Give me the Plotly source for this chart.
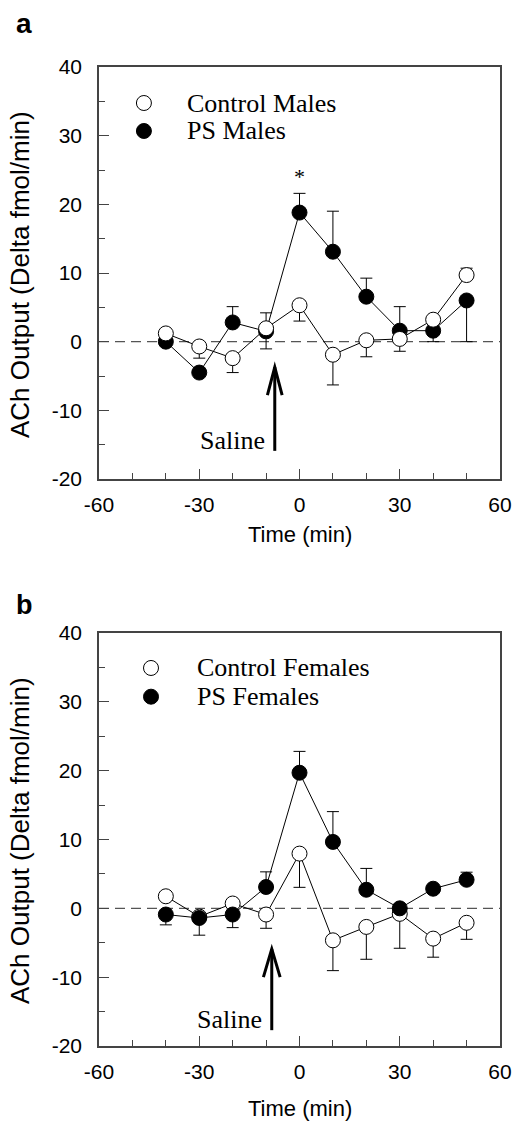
import plotly.graph_objects as go

# ---------------- data ----------------
time_min = [-40, -30, -20, -10, 0, 10, 20, 30, 40, 50]

ctrl_males = [1.2, -0.7, -2.4, 1.95, 5.3, -1.9, 0.2, 0.4, 3.2, 9.7]
ctrl_males_err_up = [0, 0, 0, 0, 0, 0, 0, 0, 0, 1.0]
ctrl_males_err_dn = [0, 1.7, 2.1, 3.0, 2.3, 4.4, 2.4, 1.8, 0, 0]

ps_males = [0.0, -4.5, 2.8, 1.5, 18.8, 13.1, 6.55, 1.6, 1.6, 6.0]
ps_males_err_up = [0, 0, 2.3, 2.7, 2.8, 5.9, 2.7, 3.5, 0, 0]
ps_males_err_dn = [0, 0, 0, 0, 0, 0, 0, 0, 1.6, 6.0]

ctrl_females = [1.75, -1.2, 0.7, -0.9, 7.95, -4.65, -2.7, -0.8, -4.4, -2.1]
ctrl_females_err_up = [0, 0, 0, 0, 0, 0, 0, 0, 0, 0]
ctrl_females_err_dn = [0, 0, 0, 2.0, 4.9, 4.4, 4.7, 5.0, 2.7, 2.4]

ps_females = [-0.9, -1.4, -0.9, 3.1, 19.7, 9.65, 2.7, 0.0, 2.85, 4.15]
ps_females_err_up = [0, 0, 0, 2.2, 3.1, 4.4, 3.1, 0, 0, 1.1]
ps_females_err_dn = [1.5, 2.5, 1.9, 0, 0, 0, 0, 0, 0, 0]

x_ticks = [-60, -30, 0, 30, 60]
y_ticks = [-20, -10, 0, 10, 20, 30, 40]

legend_a = ["Control Males", "PS Males"]
legend_b = ["Control Females", "PS Females"]

x_title = "Time (min)"
y_title = "ACh Output (Delta fmol/min)"

# ---------------- figure ----------------
fig = go.Figure()

SERIF = "Liberation Serif, Times New Roman, serif"
SANS = "Liberation Sans, Arial, sans-serif"


def add_series(y, up, dn, filled, xa, ya, name):
    fig.add_trace(go.Scatter(
        x=time_min, y=y, mode="lines+markers", name=name, showlegend=False,
        xaxis=xa, yaxis=ya,
        line=dict(color="black", width=1),
        marker=dict(size=15, color="black" if filled else "white",
                    line=dict(color="black", width=1)),
        error_y=dict(type="data", symmetric=False, array=up, arrayminus=dn,
                     color="black", thickness=1, width=6),
        cliponaxis=False,
    ))


# panel a: PS beneath, control on top
add_series(ps_males, ps_males_err_up, ps_males_err_dn, True, "x", "y", legend_a[1])
add_series(ctrl_males, ctrl_males_err_up, ctrl_males_err_dn, False, "x", "y", legend_a[0])
# panel b: control beneath, PS on top
add_series(ctrl_females, ctrl_females_err_up, ctrl_females_err_dn, False, "x2", "y2", legend_b[0])
add_series(ps_females, ps_females_err_up, ps_females_err_dn, True, "x2", "y2", legend_b[1])

W, H = 523, 1122
xdom = [99 / W, 500 / W]
ydom_a = [1 - 479 / H, 1 - 67 / H]
ydom_b = [1 - 1046 / H, 1 - 633 / H]

axcol = "#444444"


def xaxis(domain, anchor):
    return dict(domain=domain, anchor=anchor, range=[-60, 60], automargin=False,
                tickvals=x_ticks, ticktext=[str(v) for v in x_ticks],
                ticks="inside", ticklen=10, tickwidth=1, tickcolor=axcol,
                minor=dict(dtick=10, tick0=0, ticks="inside", ticklen=6,
                           tickwidth=1, tickcolor=axcol, showgrid=False),
                showline=True, linecolor=axcol, linewidth=1.5, mirror=True,
                showgrid=False, zeroline=False,
                tickfont=dict(family=SANS, size=21, color="black"),
                ticklabelstandoff=6)


def yaxis(domain, anchor):
    return dict(domain=domain, anchor=anchor, range=[-20, 40], automargin=False,
                tickvals=y_ticks, ticktext=[str(v) for v in y_ticks],
                ticks="inside", ticklen=10, tickwidth=1, tickcolor=axcol,
                minor=dict(dtick=5, tick0=0, ticks="inside", ticklen=6,
                           tickwidth=1, tickcolor=axcol, showgrid=False),
                showline=True, linecolor=axcol, linewidth=1.5, mirror=True,
                showgrid=False, zeroline=False,
                tickfont=dict(family=SANS, size=21, color="black"),
                ticklabelstandoff=11)


fig.update_layout(
    width=W, height=H,
    margin=dict(l=0, r=0, t=0, b=0),
    paper_bgcolor="white", plot_bgcolor="white",
    showlegend=False,
    xaxis=xaxis(xdom, "y"),
    yaxis=yaxis(ydom_a, "x"),
    xaxis2=xaxis(xdom, "y2"),
    yaxis2=yaxis(ydom_b, "x2"),
)

shapes = []
annotations = []

# zero reference lines
for yr in ["y", "y2"]:
    xr = "x" if yr == "y" else "x2"
    shapes.append(dict(type="line", xref=f"{xr} domain", x0=0, x1=1,
                       yref=yr, y0=0, y1=0,
                       line=dict(color="#555555", width=1.2, dash="10px,6px"),
                       layer="below"))


# legends (drawn symbols + text)
def add_legend(xr, yr, labels, cx, tx, rows):
    for (label, filled, ry) in zip(labels, [False, True], rows):
        shapes.append(dict(type="circle", xref=f"{xr} domain", yref=f"{yr} domain",
                           xsizemode="pixel", ysizemode="pixel",
                           xanchor=cx, yanchor=ry, x0=-7.5, x1=7.5, y0=-7.5, y1=7.5,
                           fillcolor="black" if filled else "white",
                           line=dict(color="black", width=1)))
        annotations.append(dict(xref=f"{xr} domain", yref=f"{yr} domain",
                                x=tx, y=ry, xanchor="left", yanchor="middle",
                                text=label, showarrow=False,
                                font=dict(family=SERIF, size=26, color="black")))


add_legend("x", "y", legend_a, 0.112, 0.2145, [0.9126, 0.8447])
add_legend("x2", "y2", legend_b, 0.1297, 0.2394, [0.9153, 0.8458])


# Saline arrows (shaft + open V head)
def add_arrow(xr, yr, xpos, ytip, ybase, hw, hl, tx, ty):
    shapes.append(dict(type="line", xref=xr, yref=yr, x0=xpos, x1=xpos,
                       y0=ybase, y1=ytip, line=dict(color="black", width=3)))
    shapes.append(dict(type="path", xref=xr, yref=yr,
                       path=f"M {xpos - hw},{ytip - hl} L {xpos},{ytip} L {xpos + hw},{ytip - hl}",
                       line=dict(color="black", width=3)))
    annotations.append(dict(xref=xr, yref=yr, x=tx, y=ty, xanchor="right",
                            yanchor="middle", text="Saline", showarrow=False,
                            font=dict(family=SERIF, size=26, color="black")))


add_arrow("x", "y", -7.4, -3.7, -15.9, 2.2, 4.1, -9.6, -14.4)
add_arrow("x2", "y2", -8.3, -5.9, -17.7, 2.5, 4.1, -10.7, -16.1)

# significance star
annotations.append(dict(xref="x", yref="y", x=0, y=24.1, text="*", showarrow=False,
                        xanchor="center", yanchor="middle",
                        font=dict(family=SERIF, size=22, color="black")))

# axis titles
for (ycen, xcen_y) in [(275, 534), (841, 1108)]:
    annotations.append(dict(xref="paper", yref="paper", x=20 / W, y=1 - ycen / H,
                            text=y_title, textangle=-90, showarrow=False,
                            xanchor="center", yanchor="middle",
                            font=dict(family=SANS, size=26, color="black")))
    annotations.append(dict(xref="paper", yref="paper", x=299.5 / W, y=1 - xcen_y / H,
                            text=x_title, showarrow=False,
                            xanchor="center", yanchor="middle",
                            font=dict(family=SANS, size=22, color="black")))

# panel letters
annotations.append(dict(xref="paper", yref="paper", x=14 / W, y=1 - 24 / H, text="<b>a</b>",
                        showarrow=False, xanchor="left", yanchor="middle",
                        font=dict(family=SANS, size=28, color="black")))
annotations.append(dict(xref="paper", yref="paper", x=14 / W, y=1 - 605 / H, text="<b>b</b>",
                        showarrow=False, xanchor="left", yanchor="middle",
                        font=dict(family=SANS, size=27, color="black")))

fig.update_layout(shapes=shapes, annotations=annotations)

fig.write_html(
    "out.html",
    config={"displayModeBar": False},
    post_script="document.body.style.margin='0';document.body.style.overflow='hidden';",
)
